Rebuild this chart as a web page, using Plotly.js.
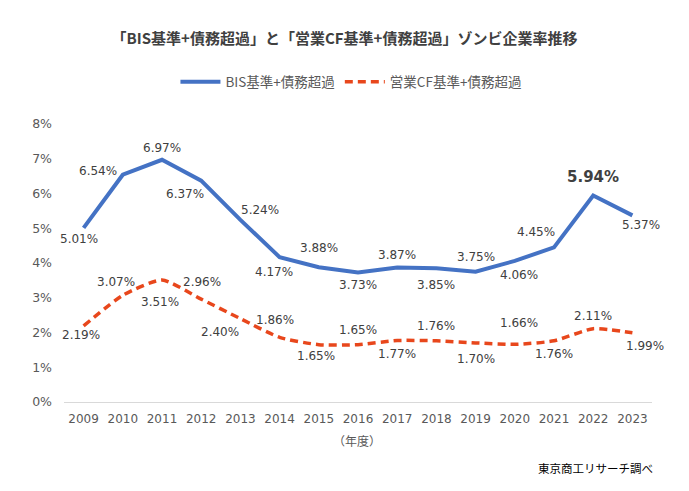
<!DOCTYPE html>
<html><head><meta charset="utf-8">
<script src="https://cdn.plot.ly/plotly-3.0.1.min.js"></script>
<style>html,body{margin:0;padding:0;background:#fff}#c{width:689px;height:491px}</style>
</head><body><div id="c"></div>
<script>
const years = [2009,2010,2011,2012,2013,2014,2015,2016,2017,2018,2019,2020,2021,2022,2023];
const bisValues = [5.01,6.54,6.97,6.37,5.24,4.17,3.88,3.73,3.87,3.85,3.75,4.06,4.45,5.94,5.37];
const cfValues = [2.19,3.07,3.51,2.96,2.40,1.86,1.65,1.65,1.77,1.76,1.70,1.66,1.76,2.11,1.99];
const bisName = 'BIS基準+債務超過';
const cfName = '営業CF基準+債務超過';
const yTickVals = [0,1,2,3,4,5,6,7,8];
const yTickText = ['0%','1%','2%','3%','4%','5%','6%','7%','8%'];

// label offsets (pixels)
const bisDx = [-5,-25,0,-16,20,-6,0,0,0,0,0,4,-18,0,9];
const bisDy = [-11,4,12,-13,10,-15,19,-13,13,-17,15,-14,15,19,-10];
const cfDx = [-3,-7,-2,1,-20,-5,-3,0,0,0,0,4,0,0,13];
const cfDy = [-9,13,-22,17,-13,17,-11,15,-14,15,-16,21,-13,13,-13];

const labelFont = {family:'DejaVu Sans, Verdana, sans-serif', size:12, color:'#404040'};
const annotations = [];
for (let i = 0; i < years.length; i++) {
  const bold = (i === 13);
  annotations.push({x:years[i], y:bisValues[i], xref:'x', yref:'y',
    text: bold ? '<b>' + bisValues[i].toFixed(2) + '%</b>' : bisValues[i].toFixed(2) + '%',
    showarrow:false, xshift:bisDx[i], yshift:bisDy[i],
    font: bold ? {family:'DejaVu Sans, Verdana, sans-serif', size:15, color:'#404040'} : labelFont});
  annotations.push({x:years[i], y:cfValues[i], xref:'x', yref:'y', text: cfValues[i].toFixed(2) + '%',
    showarrow:false, xshift:cfDx[i], yshift:cfDy[i], font: labelFont});
}
annotations.push({text:'（年度）', xref:'paper', yref:'paper', x:0.498, xanchor:'center', y:-0.137, yanchor:'middle', showarrow:false,
  font:{family:'Noto Sans CJK JP, sans-serif', size:12, color:'#595959'}});
annotations.push({text:'東京商工リサーチ調べ', xref:'paper', yref:'paper', x:1.005, xanchor:'right', y:-0.237, yanchor:'middle', showarrow:false,
  font:{family:'Noto Sans CJK JP, sans-serif', size:11.5, color:'#000'}});

const traces = [
  {x:years, y:bisValues, name:bisName, type:'scatter', mode:'lines', line:{color:'#4472C4', width:4}},
  {x:years, y:cfValues, name:cfName, type:'scatter', mode:'lines', line:{color:'#E8471C', width:3.5, dash:'8px,5px', shape:'spline', smoothing:0.6}}
];

const layout = {
  width:689, height:491,
  margin:{l:64, r:37, t:124, b:89},
  paper_bgcolor:'#fff', plot_bgcolor:'#fff',
  title:{text:'<b>「BIS基準+債務超過」と「営業CF基準+債務超過」ゾンビ企業率推移</b>', x:0.5, xanchor:'center', y:0.922, yanchor:'middle',
    font:{family:'Noto Sans CJK JP, sans-serif', size:15, color:'#404040'}},
  showlegend:true,
  legend:{orientation:'h', x:0.488, xanchor:'center', y:1.151, yanchor:'middle',
    font:{family:'Noto Sans CJK JP, sans-serif', size:13.5, color:'#595959'}, itemwidth:40, tracegroupgap:0},
  xaxis:{type:'linear', range:[2008.5,2023.5], tickvals:years, ticktext:years.map(String), showgrid:false, zeroline:false, showline:false, ticks:'',
    ticklabelstandoff:8,
    tickfont:{family:'DejaVu Sans, Verdana, sans-serif', size:12, color:'#595959'}, fixedrange:true},
  yaxis:{range:[0,8], tickvals:yTickVals, ticktext:yTickText, showgrid:false, zeroline:true, zerolinecolor:'#d9d9d9', zerolinewidth:1,
    showline:false, ticks:'', ticklabelstandoff:11,
    tickfont:{family:'DejaVu Sans, Verdana, sans-serif', size:12.5, color:'#595959'}, fixedrange:true},
  annotations:annotations
};
Plotly.newPlot('c', traces, layout, {displayModeBar:false, staticPlot:true});
</script></body></html>
